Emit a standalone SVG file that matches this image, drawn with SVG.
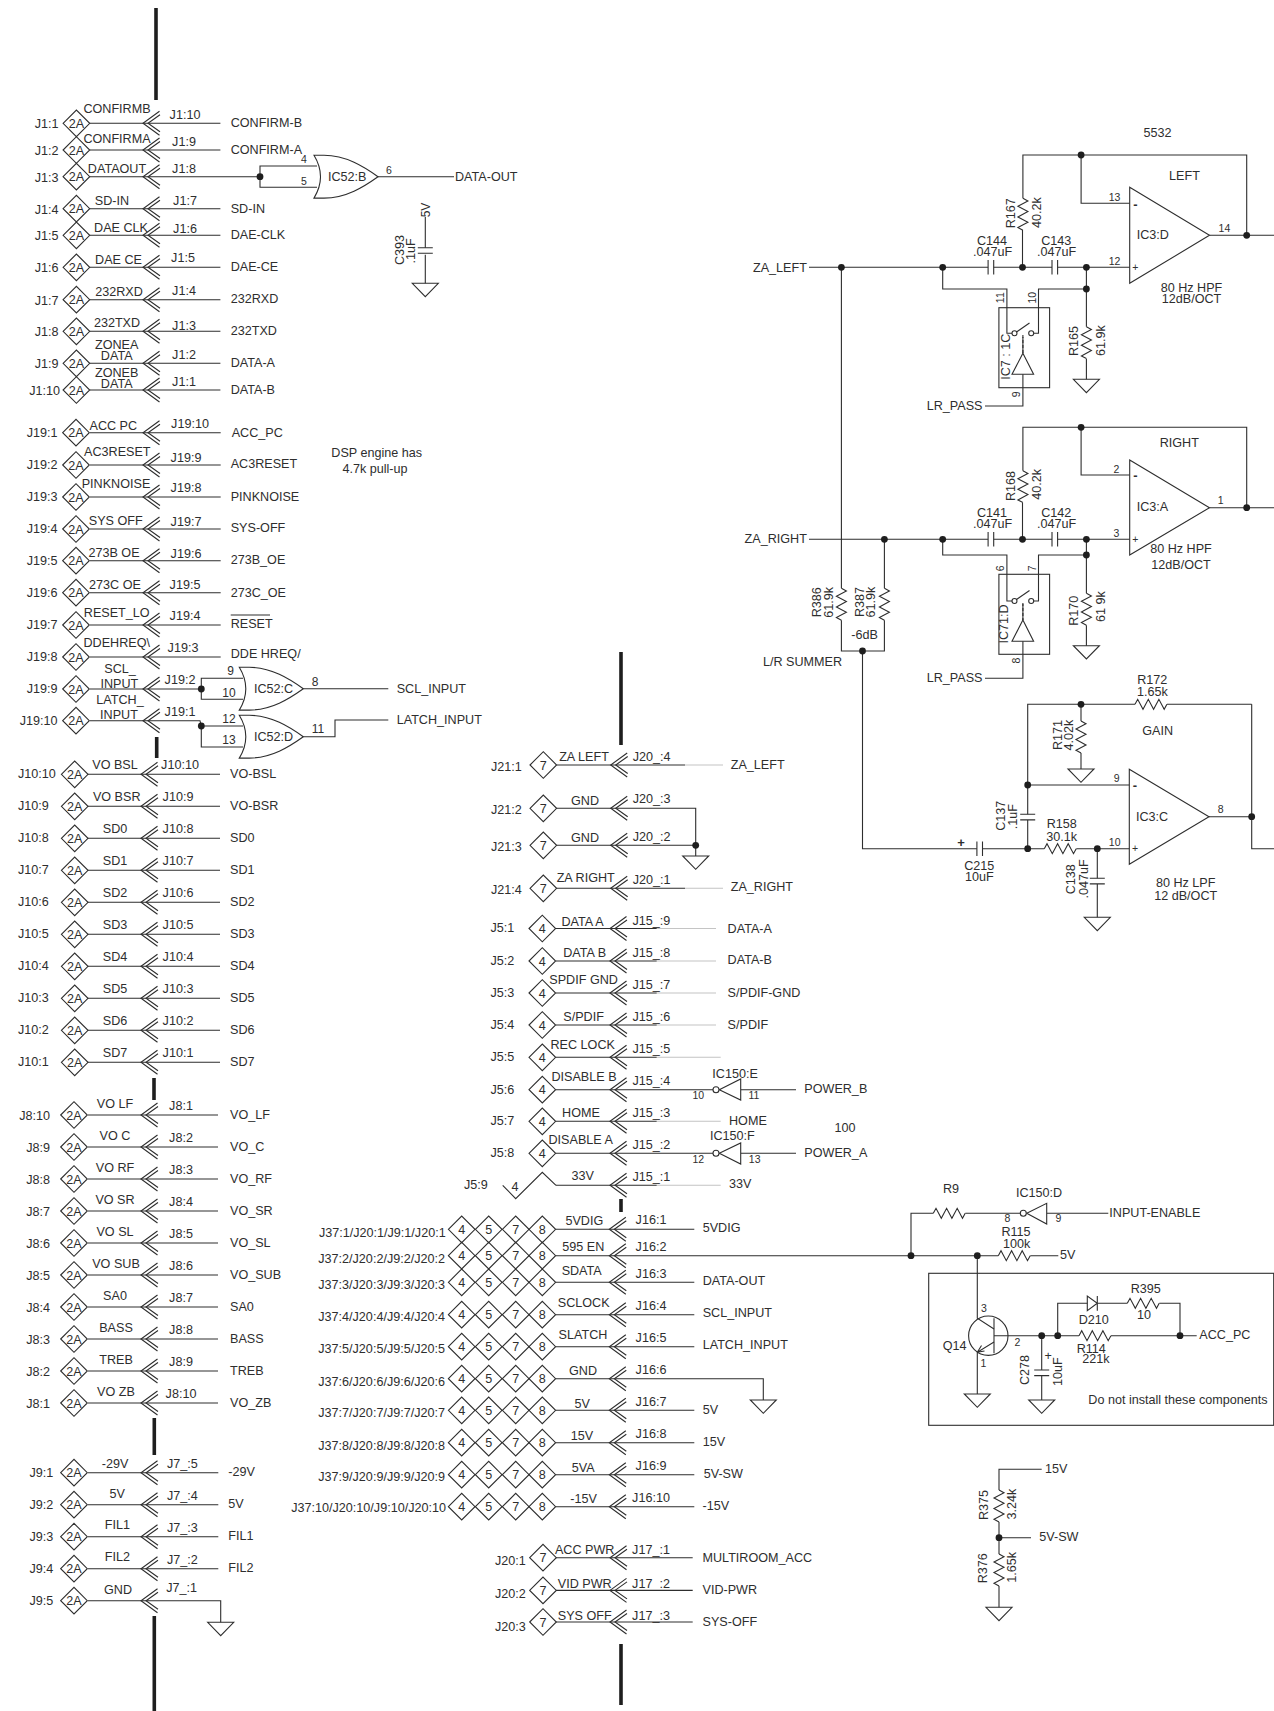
<svg xmlns="http://www.w3.org/2000/svg" width="1274" height="1711" viewBox="0 0 1274 1711">
<style>
text{font-family:"Liberation Sans",Arial,sans-serif;font-size:12.6px;fill:#2e2e2e}
.m{text-anchor:middle}
.e{text-anchor:end}
.p{text-anchor:middle;font-size:10.5px}
.s{text-anchor:middle;font-size:12px}
.b{text-anchor:middle;font-size:13px;font-weight:bold}
.w{fill:none;stroke:#2e2e2e;stroke-width:1.1}
.l{fill:none;stroke:#c4c4c4;stroke-width:1.1}
.t{fill:none;stroke:#1e1e1e;stroke-width:3.6}
.j{fill:#1e1e1e;stroke:none}
.o{fill:#fff;stroke:#2e2e2e;stroke-width:1.1}
</style>
<defs>
<path id="d" class="w" d="M-13.3,0L0,-13.3 13.3,0 0,13.3Z"/>
<path id="ch" class="w" d="M16.5,-12L0,0 16.5,12M17,-8.5L5,0 17,8.5"/>
<path id="g" class="w" d="M-13,0H13L0,13.3Z"/>
<path id="rh" class="w" d="M0,0l2.7,-5 5.3,10 5.3,-10 5.3,10 5.3,-10 5.3,10 2.7,-5"/>
<path id="rv" class="w" d="M0,0l5,2.7 -10,5.3 10,5.3 -10,5.3 10,5.3 -10,5.3 5,2.7"/>
<path id="or" class="w" d="M0,-21.4H10C32,-21.4 50,-10 64,0C50,10 32,21.4 10,21.4H0Q13,0 0,-21.4Z"/>
<path id="cv" class="w" d="M-7.5,0H7.5M-7.5,5.6H7.5"/>
<path id="ch2" class="w" d="M0,-7.2V7.2M5.6,-7.2V7.2"/>
<g id="d4"><use href="#d" x="461.7"/><use href="#d" x="488.7"/><use href="#d" x="515.7"/><use href="#d" x="542.3"/></g>
</defs>

<g id="bus-bars">
<path class="t" d="M156,8V100M156.7,737V758M154,1078V1100M154.3,1418V1455M154.3,1616V1711M621,652V745M621,1199V1212M621,1644V1705"/>
</g>

<g id="connectors">
<path class="w" d="M90,123.3H220.4M90,150H220.4M90,176.7H260M90,208.7H220.4M90,235.3H220.4M90,267.3H220.4M90,299.7H220.4M90,331.3H220.4M90,363.3H220.4M90,390H220.4"/>
<path class="w" d="M260,176.7V166H317M260,176.7V187.3H317M378,176.7H454M425.3,217V247.7M425.3,254.7V283.3"/>
<path class="w" d="M90,432.7H220.7M90,465H220.7M90,497H220.7M90,529H220.7M90,560.7H220.7M90,592.7H220.7M90,625H220.7M90,657H220.7M90,689H201.3M90,720.7H200L201.3,726"/>
<path class="w" d="M201.3,689V678.3H243M201.3,689V699.3H243M303.3,688.7H388.3M201.3,726H243M201.3,726V747H243M303.3,736.7H335V720H388.3"/>
<path class="w" d="M88,774.3H220M88,806.3H220M88,838.3H220M88,870.3H220M88,902.3H220M88,934.3H220M88,966.3H220M88,998.3H220M88,1030.3H220M88,1062.3H220"/>
<path class="w" d="M88,1115H218M88,1147H218M88,1179H218M88,1211H218M88,1243H218M88,1275H218M88,1307H218M88,1339H218M88,1371H218M88,1403H218"/>
<path class="w" d="M88,1472.7H218.3M88,1504.7H218.3M88,1536.7H218.3M88,1568.7H218.3M88,1600.7H220.7V1622.3"/>
<path class="w" d="M556.7,765H685M556.7,808.3H695.7V856M556.7,845.3H695.7M556.7,888.3H685"/>
<path class="l" d="M685,765H723M685,888.3H723M656.7,928.5H716M656.7,961H716M656.7,993H716M656.7,1025H716M656.7,1057.3H720.7M656.7,1121.3H720.7M656.7,1185.3H720.7"/>
<path class="w" d="M556,928.5H656.7M556,961H656.7M556,993H656.7M556,1025H656.7M556,1057.3H656.7M556,1089.7H713M740.7,1089.7H796M556,1121.3H656.7M556,1153.3H713M740.7,1153.3H796M556,1185.3H656.7"/>
<path class="w" d="M556,1229.3H694.3M556,1255.7H998.3M556,1282.3H694.3M556,1314.7H694.3M556,1346.7H694.3M556,1378.7H763.3V1400M556,1410.3H694.3M556,1442.7H694.3M556,1474.7H694.3M556,1506.7H694.3"/>
<path class="w" d="M556,1557.7H692.7M556,1590.4H692.7M556,1622H692.7"/>
<path class="w" d="M911,1255.7V1213.3H933.3M965.3,1213.3H1020.3M1046.7,1213.3H1108.3M1030.3,1255.7H1058.3M977.3,1255.7V1318.3L994,1329M994,1342L977.3,1352.3V1394M977.3,1352.3L984.5,1351M977.3,1352.3L981.5,1345.5"/>
<path class="w" d="M994,1335.7H1079M1111,1335.7H1196.7M1057.7,1335.7V1303.3H1087.3M1097.3,1303.3H1127.3M1159.3,1303.3H1180V1335.7M1041.7,1335.7V1370M1041.7,1375.6V1400"/>
<path class="w" d="M999,1490V1469.3H1041.7M999,1522V1554M999,1537.7H1031M999,1586V1607.3"/>
<path class="w" d="M1022.9,198.3V155H1246.7V235.3M1022.5,230V267.3M1081.1,155V203.3H1129.7M1209.5,235.3H1274"/>
<path class="w" d="M809,267.3H988.1M993.7,267.3H1052M1057.6,267.3H1129.7M942.7,267.3V289H1006.9V333.3H1012M1033.7,333.3H1038.5V289H1086.4M1086.4,267.3V326.7M1086.4,358.7V379.3M1022.9,353.3V337M1022.9,374.3V406H985M841.4,267.3V588.3"/>
<path class="w" d="M1022.9,470.7V427.3H1246.7V507.7M1022.5,502.7V539.3M1081.1,427.3V475H1129.7M1209.5,507.7H1274"/>
<path class="w" d="M809,539.3H988.1M993.7,539.3H1052M1057.6,539.3H1129.7M942.7,539.3V555H1006.9V601H1012M1033.7,601H1038.5V555H1086.4M1086.4,539.3V593.3M1086.4,625.3V645.7M1022.9,620V604M1022.9,641.3V678.3H985"/>
<path class="w" d="M884.4,539.3V588.3M841.4,620.3V651H884.4V620.3M862.5,651V848.7H976.9M982.5,848.7H1044.3M1076.3,848.7H1129.3M1209,816.7H1251.7M1251.7,704.3V848.7H1274M1027.7,785V704.3H1135M1167,704.3H1251.7M1081,704.3V721M1081,753V769M1027.7,785H1129.3M1027.7,785V814.3M1027.7,820V848.7M1097.3,848.7V878.3M1097.3,884V917.3"/>
</g>

<g id="J1-pins">
<g id="J1_1"><use href="#d" x="76.4" y="123.3"/><text class="m" x="76.4" y="127.8">2A</text><text class="e" x="58.5" y="128.3">J1:1</text><text class="m" x="117" y="112.7">CONFIRMB</text><use href="#ch" x="143" y="123.3"/><text class="m" x="185" y="119.3">J1:10</text><text x="230.7" y="127.3">CONFIRM-B</text></g>
<g id="J1_2"><use href="#d" x="76.4" y="150"/><text class="m" x="76.4" y="154.5">2A</text><text class="e" x="58.5" y="155">J1:2</text><text class="m" x="117" y="142.7">CONFIRMA</text><use href="#ch" x="143" y="150"/><text class="m" x="184" y="146">J1:9</text><text x="230.7" y="154">CONFIRM-A</text></g>
<g id="J1_3"><use href="#d" x="76.4" y="176.7"/><text class="m" x="76.4" y="181.2">2A</text><text class="e" x="58.5" y="181.7">J1:3</text><text class="m" x="117" y="172.7">DATAOUT</text><use href="#ch" x="143" y="176.7"/><text class="m" x="184" y="172.7">J1:8</text></g>
<g id="J1_4"><use href="#d" x="76.4" y="208.7"/><text class="m" x="76.4" y="213.2">2A</text><text class="e" x="58.5" y="213.7">J1:4</text><text class="m" x="112" y="205">SD-IN</text><use href="#ch" x="143" y="208.7"/><text class="m" x="185" y="204.7">J1:7</text><text x="230.7" y="212.7">SD-IN</text></g>
<g id="J1_5"><use href="#d" x="76.4" y="235.3"/><text class="m" x="76.4" y="239.8">2A</text><text class="e" x="58.5" y="240.3">J1:5</text><text class="m" x="121" y="232">DAE CLK</text><use href="#ch" x="143" y="235.3"/><text class="m" x="185" y="232.7">J1:6</text><text x="230.7" y="239.3">DAE-CLK</text></g>
<g id="J1_6"><use href="#d" x="76.4" y="267.3"/><text class="m" x="76.4" y="271.8">2A</text><text class="e" x="58.5" y="272.3">J1:6</text><text class="m" x="118.5" y="264">DAE CE</text><use href="#ch" x="143" y="267.3"/><text class="m" x="183" y="262">J1:5</text><text x="230.7" y="271.3">DAE-CE</text></g>
<g id="J1_7"><use href="#d" x="76.4" y="299.7"/><text class="m" x="76.4" y="304.2">2A</text><text class="e" x="58.5" y="304.7">J1:7</text><text class="m" x="119" y="296">232RXD</text><use href="#ch" x="143" y="299.7"/><text class="m" x="184" y="295.3">J1:4</text><text x="230.7" y="303.3">232RXD</text></g>
<g id="J1_8"><use href="#d" x="76.4" y="331.3"/><text class="m" x="76.4" y="335.8">2A</text><text class="e" x="58.5" y="336.3">J1:8</text><text class="m" x="117" y="326.7">232TXD</text><use href="#ch" x="143" y="331.3"/><text class="m" x="184" y="330">J1:3</text><text x="230.7" y="335.3">232TXD</text></g>
<g id="J1_9"><use href="#d" x="76.4" y="363.3"/><text class="m" x="76.4" y="367.8">2A</text><text class="e" x="58.5" y="368.3">J1:9</text><text class="m" x="116.7" y="349.3">ZONEA</text><text class="m" x="116.7" y="360">DATA</text><use href="#ch" x="143" y="363.3"/><text class="m" x="184" y="359.3">J1:2</text><text x="230.7" y="367.3">DATA-A</text></g>
<g id="J1_10"><use href="#d" x="76.4" y="390"/><text class="m" x="76.4" y="394.5">2A</text><text class="e" x="60" y="395">J1:10</text><text class="m" x="116.7" y="377.3">ZONEB</text><text class="m" x="116.7" y="388.3">DATA</text><use href="#ch" x="143" y="390"/><text class="m" x="184" y="386">J1:1</text><text x="230.7" y="394">DATA-B</text></g>
</g>

<g id="IC52B"><use href="#or" x="314" y="176.7"/><text x="328" y="181">IC52:B</text><text class="p" x="304" y="163">4</text><text class="p" x="304" y="185">5</text><text class="p" x="389" y="174">6</text><text x="455" y="181">DATA-OUT</text><circle class="j" cx="260" cy="176.7" r="3.4"/></g>
<g id="C393"><use href="#cv" x="425.3" y="247.7"/><use href="#g" x="425.3" y="283.3"/><text class="s" transform="translate(430,210) rotate(-90)">5V</text><text class="m" transform="translate(404,250) rotate(-90)">C393</text><text class="m" transform="translate(415,251) rotate(-90)">.1uF</text></g>

<g id="J19-pins">
<g id="J19_1"><use href="#d" x="76" y="432.7"/><text class="m" x="76" y="437.2">2A</text><text class="e" x="57.5" y="436.7">J19:1</text><text class="m" x="113.3" y="430">ACC PC</text><use href="#ch" x="143" y="432.7"/><text class="m" x="190" y="428.3">J19:10</text><text x="231.7" y="436.7">ACC_PC</text></g>
<g id="J19_2"><use href="#d" x="76" y="465"/><text class="m" x="76" y="469.5">2A</text><text class="e" x="57.5" y="469">J19:2</text><text class="m" x="117.3" y="455.7">AC3RESET</text><use href="#ch" x="143" y="465"/><text class="m" x="186" y="461.7">J19:9</text><text x="230.7" y="468.3">AC3RESET</text></g>
<g id="J19_3"><use href="#d" x="76" y="497"/><text class="m" x="76" y="501.5">2A</text><text class="e" x="57.5" y="501">J19:3</text><text class="m" x="116" y="488.3">PINKNOISE</text><use href="#ch" x="143" y="497"/><text class="m" x="186" y="492.3">J19:8</text><text x="230.7" y="500.7">PINKNOISE</text></g>
<g id="J19_4"><use href="#d" x="76" y="529"/><text class="m" x="76" y="533.5">2A</text><text class="e" x="57.5" y="533">J19:4</text><text class="m" x="115.7" y="525">SYS OFF</text><use href="#ch" x="143" y="529"/><text class="m" x="186" y="525.7">J19:7</text><text x="230.7" y="532.3">SYS-OFF</text></g>
<g id="J19_5"><use href="#d" x="76" y="560.7"/><text class="m" x="76" y="565.2">2A</text><text class="e" x="57.5" y="564.7">J19:5</text><text class="m" x="114" y="557.3">273B OE</text><use href="#ch" x="143" y="560.7"/><text class="m" x="186" y="557.7">J19:6</text><text x="230.7" y="564.3">273B_OE</text></g>
<g id="J19_6"><use href="#d" x="76" y="592.7"/><text class="m" x="76" y="597.2">2A</text><text class="e" x="57.5" y="596.7">J19:6</text><text class="m" x="115" y="589.3">273C OE</text><use href="#ch" x="143" y="592.7"/><text class="m" x="185" y="589.3">J19:5</text><text x="230.7" y="596.7">273C_OE</text></g>
<g id="J19_7"><use href="#d" x="76" y="625"/><text class="m" x="76" y="629.5">2A</text><text class="e" x="57.5" y="629">J19:7</text><text class="m" x="116.7" y="616.7">RESET_LO</text><use href="#ch" x="143" y="625"/><text class="m" x="185" y="620">J19:4</text><text x="230.7" y="628.3">RESET</text><path class="w" d="M230.7,615H270"/></g>
<g id="J19_8"><use href="#d" x="76" y="657"/><text class="m" x="76" y="661.5">2A</text><text class="e" x="57.5" y="661">J19:8</text><text class="m" x="116.7" y="646.7">DDEHREQ\</text><use href="#ch" x="143" y="657"/><text class="m" x="183" y="652.3">J19:3</text><text x="230.7" y="657.7">DDE HREQ/</text></g>
<g id="J19_9"><use href="#d" x="76" y="689"/><text class="m" x="76" y="693.5">2A</text><text class="e" x="57.5" y="693">J19:9</text><text class="m" x="120" y="673.3">SCL_</text><text class="m" x="119.3" y="687.7">INPUT</text><use href="#ch" x="143" y="689"/><text class="m" x="180" y="684.3">J19:2</text></g>
<g id="J19_10"><use href="#d" x="76" y="720.7"/><text class="m" x="76" y="725.2">2A</text><text class="e" x="57.5" y="725">J19:10</text><text class="m" x="120" y="704">LATCH_</text><text class="m" x="119" y="719">INPUT</text><use href="#ch" x="143" y="720.7"/><text class="m" x="180" y="716.3">J19:1</text></g>
</g>
<g id="IC52C"><use href="#or" x="239.3" y="688.7"/><text x="254" y="692.7">IC52:C</text><text class="s" x="230.7" y="675">9</text><text class="s" x="229" y="696.7">10</text><text class="s" x="315" y="686">8</text><text x="396.7" y="692.7">SCL_INPUT</text><circle class="j" cx="201.3" cy="689" r="3.4"/></g>
<g id="IC52D"><use href="#or" x="239.3" y="736.7"/><text x="254" y="740.7">IC52:D</text><text class="s" x="229" y="723">12</text><text class="s" x="229" y="744.3">13</text><text class="s" x="318" y="733">11</text><text x="396.7" y="724.3">LATCH_INPUT</text><circle class="j" cx="201.3" cy="726" r="3.4"/></g>
<g id="DSP-note"><text class="m" x="376.7" y="457.3">DSP engine has</text><text class="m" x="375" y="473.3">4.7k pull-up</text></g>

<g id="J10-pins">
<g id="J10_10"><use href="#d" x="74.7" y="774.3"/><text class="m" x="74.7" y="778.8">2A</text><text x="18" y="778.3">J10:10</text><text class="m" x="115" y="769.3">VO BSL</text><use href="#ch" x="141" y="774.3"/><text class="m" x="180" y="769.3">J10:10</text><text x="230" y="777.7">VO-BSL</text></g>
<g id="J10_9"><use href="#d" x="74.7" y="806.3"/><text class="m" x="74.7" y="810.8">2A</text><text x="18" y="810.3">J10:9</text><text class="m" x="116.7" y="801.3">VO BSR</text><use href="#ch" x="141" y="806.3"/><text class="m" x="178" y="801.3">J10:9</text><text x="230" y="809.7">VO-BSR</text></g>
<g id="J10_8"><use href="#d" x="74.7" y="838.3"/><text class="m" x="74.7" y="842.8">2A</text><text x="18" y="842.3">J10:8</text><text class="m" x="115" y="833.3">SD0</text><use href="#ch" x="141" y="838.3"/><text class="m" x="178" y="833.3">J10:8</text><text x="230" y="841.7">SD0</text></g>
<g id="J10_7"><use href="#d" x="74.7" y="870.3"/><text class="m" x="74.7" y="874.8">2A</text><text x="18" y="874.3">J10:7</text><text class="m" x="115" y="865.3">SD1</text><use href="#ch" x="141" y="870.3"/><text class="m" x="178" y="865.3">J10:7</text><text x="230" y="873.7">SD1</text></g>
<g id="J10_6"><use href="#d" x="74.7" y="902.3"/><text class="m" x="74.7" y="906.8">2A</text><text x="18" y="906.3">J10:6</text><text class="m" x="115" y="897.3">SD2</text><use href="#ch" x="141" y="902.3"/><text class="m" x="178" y="897.3">J10:6</text><text x="230" y="905.7">SD2</text></g>
<g id="J10_5"><use href="#d" x="74.7" y="934.3"/><text class="m" x="74.7" y="938.8">2A</text><text x="18" y="938.3">J10:5</text><text class="m" x="115" y="929.3">SD3</text><use href="#ch" x="141" y="934.3"/><text class="m" x="178" y="929.3">J10:5</text><text x="230" y="937.7">SD3</text></g>
<g id="J10_4"><use href="#d" x="74.7" y="966.3"/><text class="m" x="74.7" y="970.8">2A</text><text x="18" y="970.3">J10:4</text><text class="m" x="115" y="961.3">SD4</text><use href="#ch" x="141" y="966.3"/><text class="m" x="178" y="961.3">J10:4</text><text x="230" y="969.7">SD4</text></g>
<g id="J10_3"><use href="#d" x="74.7" y="998.3"/><text class="m" x="74.7" y="1002.8">2A</text><text x="18" y="1002.3">J10:3</text><text class="m" x="115" y="993.3">SD5</text><use href="#ch" x="141" y="998.3"/><text class="m" x="178" y="993.3">J10:3</text><text x="230" y="1001.7">SD5</text></g>
<g id="J10_2"><use href="#d" x="74.7" y="1030.3"/><text class="m" x="74.7" y="1034.8">2A</text><text x="18" y="1034.3">J10:2</text><text class="m" x="115" y="1025.3">SD6</text><use href="#ch" x="141" y="1030.3"/><text class="m" x="178" y="1025.3">J10:2</text><text x="230" y="1033.7">SD6</text></g>
<g id="J10_1"><use href="#d" x="74.7" y="1062.3"/><text class="m" x="74.7" y="1066.8">2A</text><text x="18" y="1066.3">J10:1</text><text class="m" x="115" y="1057.3">SD7</text><use href="#ch" x="141" y="1062.3"/><text class="m" x="178" y="1057.3">J10:1</text><text x="230" y="1065.7">SD7</text></g>
</g>

<g id="J8-pins">
<g id="J8_10"><use href="#d" x="74" y="1115"/><text class="m" x="74" y="1119.5">2A</text><text class="e" x="50" y="1119.5">J8:10</text><text class="m" x="115" y="1108">VO LF</text><use href="#ch" x="141" y="1115"/><text class="m" x="181" y="1109.5">J8:1</text><text x="230" y="1118.5">VO_LF</text></g>
<g id="J8_9"><use href="#d" x="74" y="1147"/><text class="m" x="74" y="1151.5">2A</text><text class="e" x="50" y="1151.5">J8:9</text><text class="m" x="115" y="1140">VO C</text><use href="#ch" x="141" y="1147"/><text class="m" x="181" y="1141.5">J8:2</text><text x="230" y="1150.5">VO_C</text></g>
<g id="J8_8"><use href="#d" x="74" y="1179"/><text class="m" x="74" y="1183.5">2A</text><text class="e" x="50" y="1183.5">J8:8</text><text class="m" x="115" y="1172">VO RF</text><use href="#ch" x="141" y="1179"/><text class="m" x="181" y="1173.5">J8:3</text><text x="230" y="1182.5">VO_RF</text></g>
<g id="J8_7"><use href="#d" x="74" y="1211"/><text class="m" x="74" y="1215.5">2A</text><text class="e" x="50" y="1215.5">J8:7</text><text class="m" x="115" y="1204">VO SR</text><use href="#ch" x="141" y="1211"/><text class="m" x="181" y="1205.5">J8:4</text><text x="230" y="1214.5">VO_SR</text></g>
<g id="J8_6"><use href="#d" x="74" y="1243"/><text class="m" x="74" y="1247.5">2A</text><text class="e" x="50" y="1247.5">J8:6</text><text class="m" x="115" y="1236">VO SL</text><use href="#ch" x="141" y="1243"/><text class="m" x="181" y="1237.5">J8:5</text><text x="230" y="1246.5">VO_SL</text></g>
<g id="J8_5"><use href="#d" x="74" y="1275"/><text class="m" x="74" y="1279.5">2A</text><text class="e" x="50" y="1279.5">J8:5</text><text class="m" x="116" y="1268">VO SUB</text><use href="#ch" x="141" y="1275"/><text class="m" x="181" y="1269.5">J8:6</text><text x="230" y="1278.5">VO_SUB</text></g>
<g id="J8_4"><use href="#d" x="74" y="1307"/><text class="m" x="74" y="1311.5">2A</text><text class="e" x="50" y="1311.5">J8:4</text><text class="m" x="115" y="1300">SA0</text><use href="#ch" x="141" y="1307"/><text class="m" x="181" y="1301.5">J8:7</text><text x="230" y="1310.5">SA0</text></g>
<g id="J8_3"><use href="#d" x="74" y="1339"/><text class="m" x="74" y="1343.5">2A</text><text class="e" x="50" y="1343.5">J8:3</text><text class="m" x="116" y="1332">BASS</text><use href="#ch" x="141" y="1339"/><text class="m" x="181" y="1333.5">J8:8</text><text x="230" y="1342.5">BASS</text></g>
<g id="J8_2"><use href="#d" x="74" y="1371"/><text class="m" x="74" y="1375.5">2A</text><text class="e" x="50" y="1375.5">J8:2</text><text class="m" x="116" y="1364">TREB</text><use href="#ch" x="141" y="1371"/><text class="m" x="181" y="1365.5">J8:9</text><text x="230" y="1374.5">TREB</text></g>
<g id="J8_1"><use href="#d" x="74" y="1403"/><text class="m" x="74" y="1407.5">2A</text><text class="e" x="50" y="1407.5">J8:1</text><text class="m" x="116" y="1396">VO ZB</text><use href="#ch" x="141" y="1403"/><text class="m" x="181" y="1397.5">J8:10</text><text x="230" y="1406.5">VO_ZB</text></g>
</g>

<g id="J9-pins">
<g id="J9_1"><use href="#d" x="74" y="1472.7"/><text class="m" x="74" y="1477.2">2A</text><text class="e" x="53.3" y="1476.7">J9:1</text><text class="m" x="115" y="1468.3">-29V</text><use href="#ch" x="141" y="1472.7"/><text class="m" x="182.3" y="1468.3">J7_:5</text><text x="228.3" y="1476">-29V</text></g>
<g id="J9_2"><use href="#d" x="74" y="1504.7"/><text class="m" x="74" y="1509.2">2A</text><text class="e" x="53.3" y="1508.7">J9:2</text><text class="m" x="117.3" y="1498.3">5V</text><use href="#ch" x="141" y="1504.7"/><text class="m" x="182.3" y="1500.3">J7_:4</text><text x="228.3" y="1508">5V</text></g>
<g id="J9_3"><use href="#d" x="74" y="1536.7"/><text class="m" x="74" y="1541.2">2A</text><text class="e" x="53.3" y="1540.7">J9:3</text><text class="m" x="117.3" y="1529.3">FIL1</text><use href="#ch" x="141" y="1536.7"/><text class="m" x="182.3" y="1532.3">J7_:3</text><text x="228.3" y="1540">FIL1</text></g>
<g id="J9_4"><use href="#d" x="74" y="1568.7"/><text class="m" x="74" y="1573.2">2A</text><text class="e" x="53.3" y="1572.7">J9:4</text><text class="m" x="117.3" y="1561.3">FIL2</text><use href="#ch" x="141" y="1568.7"/><text class="m" x="182.3" y="1564.3">J7_:2</text><text x="228.3" y="1572.3">FIL2</text></g>
<g id="J9_5"><use href="#d" x="74" y="1600.7"/><text class="m" x="74" y="1605.2">2A</text><text class="e" x="53.3" y="1604.7">J9:5</text><text class="m" x="118" y="1593.7">GND</text><use href="#ch" x="141" y="1600.7"/><text class="m" x="181.7" y="1592">J7_:1</text><use href="#g" x="220.7" y="1622.3"/></g>
</g>

<g id="J21-pins">
<g id="J21_1"><use href="#d" x="543.3" y="765"/><text class="m" x="543.3" y="769.5">7</text><text class="e" x="521.7" y="770.7">J21:1</text><text class="m" x="584" y="761">ZA LEFT</text><use href="#ch" x="610.7" y="765"/><text class="m" x="651.7" y="761">J20_:4</text><text x="730.7" y="769.3">ZA_LEFT</text></g>
<g id="J21_2"><use href="#d" x="543.3" y="808.3"/><text class="m" x="543.3" y="812.8">7</text><text class="e" x="521.7" y="814">J21:2</text><text class="m" x="585" y="805">GND</text><use href="#ch" x="610.7" y="808.3"/><text class="m" x="651.7" y="803.3">J20_:3</text></g>
<g id="J21_3"><use href="#d" x="543.3" y="845.3"/><text class="m" x="543.3" y="849.8">7</text><text class="e" x="521.7" y="851">J21:3</text><text class="m" x="585" y="842">GND</text><use href="#ch" x="610.7" y="845.3"/><text class="m" x="651.7" y="841">J20_:2</text><circle class="j" cx="695.7" cy="845.3" r="3.4"/><use href="#g" x="695.7" y="856"/></g>
<g id="J21_4"><use href="#d" x="543.3" y="888.3"/><text class="m" x="543.3" y="892.8">7</text><text class="e" x="521.7" y="893.5">J21:4</text><text class="m" x="585.7" y="882.3">ZA RIGHT</text><use href="#ch" x="610.7" y="888.3"/><text class="m" x="651.7" y="883.7">J20_:1</text><text x="730.7" y="891">ZA_RIGHT</text></g>
</g>

<g id="J5-pins">
<g id="J5_1"><use href="#d" x="542.3" y="928.5"/><text class="m" x="542.3" y="933">4</text><text class="e" x="514.3" y="932">J5:1</text><text class="m" x="582.5" y="926">DATA A</text><use href="#ch" x="610" y="928.5"/><text class="m" x="651.3" y="925">J15_:9</text><text x="727.6" y="932.6">DATA-A</text></g>
<g id="J5_2"><use href="#d" x="542.3" y="961"/><text class="m" x="542.3" y="965.5">4</text><text class="e" x="514.3" y="964.5">J5:2</text><text class="m" x="584.7" y="956.6">DATA B</text><use href="#ch" x="610" y="961"/><text class="m" x="651.3" y="956.6">J15_:8</text><text x="727.6" y="964.3">DATA-B</text></g>
<g id="J5_3"><use href="#d" x="542.3" y="993"/><text class="m" x="542.3" y="997.5">4</text><text class="e" x="514.3" y="996.5">J5:3</text><text class="m" x="583.6" y="983.8">SPDIF GND</text><use href="#ch" x="610" y="993"/><text class="m" x="651.3" y="989">J15_:7</text><text x="727.6" y="997">S/PDIF-GND</text></g>
<g id="J5_4"><use href="#d" x="542.3" y="1025"/><text class="m" x="542.3" y="1029.5">4</text><text class="e" x="514.3" y="1028.5">J5:4</text><text class="m" x="583.6" y="1021">S/PDIF</text><use href="#ch" x="610" y="1025"/><text class="m" x="651.3" y="1021">J15_:6</text><text x="727.6" y="1028.5">S/PDIF</text></g>
<g id="J5_5"><use href="#d" x="542.3" y="1057.3"/><text class="m" x="542.3" y="1061.8">4</text><text class="e" x="514.3" y="1060.7">J5:5</text><text class="m" x="582.7" y="1049.3">REC LOCK</text><use href="#ch" x="610" y="1057.3"/><text class="m" x="651.3" y="1052.7">J15_:5</text></g>
<g id="J5_6"><use href="#d" x="542.3" y="1089.7"/><text class="m" x="542.3" y="1094.2">4</text><text class="e" x="514.3" y="1093.5">J5:6</text><text class="m" x="584" y="1080.7">DISABLE B</text><use href="#ch" x="610" y="1089.7"/><text class="m" x="651.3" y="1085">J15_:4</text></g>
<g id="J5_7"><use href="#d" x="542.3" y="1121.3"/><text class="m" x="542.3" y="1125.8">4</text><text class="e" x="514.3" y="1125">J5:7</text><text class="m" x="581" y="1117.3">HOME</text><use href="#ch" x="610" y="1121.3"/><text class="m" x="651.3" y="1117.3">J15_:3</text><text x="729" y="1125">HOME</text></g>
<g id="J5_8"><use href="#d" x="542.3" y="1153.3"/><text class="m" x="542.3" y="1157.8">4</text><text class="e" x="514.3" y="1157">J5:8</text><text class="m" x="580.7" y="1144">DISABLE A</text><use href="#ch" x="610" y="1153.3"/><text class="m" x="651.3" y="1149">J15_:2</text></g>
<g id="J5_9"><path class="w" d="M502.7,1185.3L515.7,1198.7 542.3,1172.3 556,1185.3"/><text class="m" x="515" y="1191">4</text><text x="464" y="1189.3">J5:9</text><text class="m" x="582.7" y="1180">33V</text><use href="#ch" x="610" y="1185.3"/><text class="m" x="651.3" y="1181">J15_:1</text><text x="729" y="1188.3">33V</text></g>
</g>
<g id="IC150E"><path class="o" d="M740.7,1079V1100L719.3,1089.7Z"/><circle class="o" cx="716" cy="1089.7" r="3"/><text x="712.3" y="1077.7">IC150:E</text><text class="p" x="698.3" y="1099.3">10</text><text class="p" x="754" y="1099.3">11</text><text x="804.3" y="1092.7">POWER_B</text></g>
<g id="IC150F"><path class="o" d="M740.7,1143V1164L719.3,1153.3Z"/><circle class="o" cx="716" cy="1153.3" r="3"/><text x="710" y="1140">IC150:F</text><text class="p" x="698.3" y="1163.3">12</text><text class="p" x="754.7" y="1163.3">13</text><text x="804.3" y="1156.7">POWER_A</text></g>
<text id="note-100" class="m" x="845" y="1132">100</text>

<g id="J16-pins">
<g id="J16_1"><use href="#d4" y="1229.3"/><text class="m" x="461.7" y="1233.8">4</text><text class="m" x="488.7" y="1233.8">5</text><text class="m" x="515.7" y="1233.8">7</text><text class="m" x="542.3" y="1233.8">8</text><text class="e" x="445.7" y="1237.3">J37:1/J20:1/J9:1/J20:1</text><text class="m" x="584.3" y="1225">5VDIG</text><use href="#ch" x="609.3" y="1229.3"/><text class="m" x="651" y="1224.3">J16:1</text><text x="702.7" y="1231.7">5VDIG</text></g>
<g id="J16_2"><use href="#d4" y="1255.7"/><text class="m" x="461.7" y="1260.2">4</text><text class="m" x="488.7" y="1260.2">5</text><text class="m" x="515.7" y="1260.2">7</text><text class="m" x="542.3" y="1260.2">8</text><text class="e" x="445" y="1262.7">J37:2/J20:2/J9:2/J20:2</text><text class="m" x="583.3" y="1251">595 EN</text><use href="#ch" x="609.3" y="1255.7"/><text class="m" x="651" y="1251">J16:2</text></g>
<g id="J16_3"><use href="#d4" y="1282.3"/><text class="m" x="461.7" y="1286.8">4</text><text class="m" x="488.7" y="1286.8">5</text><text class="m" x="515.7" y="1286.8">7</text><text class="m" x="542.3" y="1286.8">8</text><text class="e" x="445" y="1289.3">J37:3/J20:3/J9:3/J20:3</text><text class="m" x="581.7" y="1275.3">SDATA</text><use href="#ch" x="609.3" y="1282.3"/><text class="m" x="651" y="1277.7">J16:3</text><text x="702.7" y="1285.3">DATA-OUT</text></g>
<g id="J16_4"><use href="#d4" y="1314.7"/><text class="m" x="461.7" y="1319.2">4</text><text class="m" x="488.7" y="1319.2">5</text><text class="m" x="515.7" y="1319.2">7</text><text class="m" x="542.3" y="1319.2">8</text><text class="e" x="445" y="1321.3">J37:4/J20:4/J9:4/J20:4</text><text class="m" x="583.7" y="1307.3">SCLOCK</text><use href="#ch" x="609.3" y="1314.7"/><text class="m" x="651" y="1309.7">J16:4</text><text x="702.7" y="1317.3">SCL_INPUT</text></g>
<g id="J16_5"><use href="#d4" y="1346.7"/><text class="m" x="461.7" y="1351.2">4</text><text class="m" x="488.7" y="1351.2">5</text><text class="m" x="515.7" y="1351.2">7</text><text class="m" x="542.3" y="1351.2">8</text><text class="e" x="445" y="1353.3">J37:5/J20:5/J9:5/J20:5</text><text class="m" x="583" y="1339">SLATCH</text><use href="#ch" x="609.3" y="1346.7"/><text class="m" x="651" y="1342">J16:5</text><text x="702.7" y="1349.3">LATCH_INPUT</text></g>
<g id="J16_6"><use href="#d4" y="1378.7"/><text class="m" x="461.7" y="1383.2">4</text><text class="m" x="488.7" y="1383.2">5</text><text class="m" x="515.7" y="1383.2">7</text><text class="m" x="542.3" y="1383.2">8</text><text class="e" x="445" y="1386">J37:6/J20:6/J9:6/J20:6</text><text class="m" x="583" y="1374.7">GND</text><use href="#ch" x="609.3" y="1378.7"/><text class="m" x="651" y="1374">J16:6</text><use href="#g" x="763.3" y="1400"/></g>
<g id="J16_7"><use href="#d4" y="1410.3"/><text class="m" x="461.7" y="1414.8">4</text><text class="m" x="488.7" y="1414.8">5</text><text class="m" x="515.7" y="1414.8">7</text><text class="m" x="542.3" y="1414.8">8</text><text class="e" x="445" y="1416.7">J37:7/J20:7/J9:7/J20:7</text><text class="m" x="582.3" y="1407.7">5V</text><use href="#ch" x="609.3" y="1410.3"/><text class="m" x="651" y="1406">J16:7</text><text x="702.7" y="1413.7">5V</text></g>
<g id="J16_8"><use href="#d4" y="1442.7"/><text class="m" x="461.7" y="1447.2">4</text><text class="m" x="488.7" y="1447.2">5</text><text class="m" x="515.7" y="1447.2">7</text><text class="m" x="542.3" y="1447.2">8</text><text class="e" x="445" y="1450">J37:8/J20:8/J9:8/J20:8</text><text class="m" x="582" y="1440">15V</text><use href="#ch" x="609.3" y="1442.7"/><text class="m" x="651" y="1438">J16:8</text><text x="702.7" y="1446">15V</text></g>
<g id="J16_9"><use href="#d4" y="1474.7"/><text class="m" x="461.7" y="1479.2">4</text><text class="m" x="488.7" y="1479.2">5</text><text class="m" x="515.7" y="1479.2">7</text><text class="m" x="542.3" y="1479.2">8</text><text class="e" x="445" y="1480.7">J37:9/J20:9/J9:9/J20:9</text><text class="m" x="583.3" y="1472">5VA</text><use href="#ch" x="609.3" y="1474.7"/><text class="m" x="651" y="1470">J16:9</text><text x="703.7" y="1478">5V-SW</text></g>
<g id="J16_10"><use href="#d4" y="1506.7"/><text class="m" x="461.7" y="1511.2">4</text><text class="m" x="488.7" y="1511.2">5</text><text class="m" x="515.7" y="1511.2">7</text><text class="m" x="542.3" y="1511.2">8</text><text class="e" x="446" y="1512">J37:10/J20:10/J9:10/J20:10</text><text class="m" x="583.6" y="1503">-15V</text><use href="#ch" x="609.3" y="1506.7"/><text class="m" x="651" y="1502">J16:10</text><text x="702.5" y="1509.6">-15V</text></g>
</g>

<g id="J20-pins">
<g id="J20_1"><use href="#d" x="543" y="1557.7"/><text class="m" x="543" y="1562.2">7</text><text class="e" x="525.8" y="1565">J20:1</text><text class="m" x="584.7" y="1554">ACC PWR</text><use href="#ch" x="610" y="1557.7"/><text class="m" x="651" y="1554">J17_:1</text><text x="702.5" y="1562">MULTIROOM_ACC</text></g>
<g id="J20_2"><use href="#d" x="543" y="1590.4"/><text class="m" x="543" y="1594.9">7</text><text class="e" x="525.8" y="1598">J20:2</text><text class="m" x="584.7" y="1588">VID PWR</text><use href="#ch" x="610" y="1590.4"/><text class="m" x="651" y="1588">J17_:2</text><text x="702.5" y="1593.6">VID-PWR</text></g>
<g id="J20_3"><use href="#d" x="543" y="1622"/><text class="m" x="543" y="1626.5">7</text><text class="e" x="525.8" y="1630.7">J20:3</text><text class="m" x="584.7" y="1619.8">SYS OFF</text><use href="#ch" x="610" y="1622"/><text class="m" x="651" y="1619.8">J17_:3</text><text x="702.5" y="1626">SYS-OFF</text></g>
</g>

<g id="R9"><use href="#rh" x="933.3" y="1213.3"/><text class="m" x="951" y="1193.3">R9</text></g>
<g id="IC150D"><path class="o" d="M1046.7,1203.3V1224L1026.7,1213.3Z"/><circle class="o" cx="1023.3" cy="1213.3" r="3"/><text x="1016" y="1197.3">IC150:D</text><text class="p" x="1007.3" y="1222.3">8</text><text class="p" x="1058.3" y="1222.3">9</text><text x="1109.3" y="1216.7">INPUT-ENABLE</text></g>
<g id="R115"><use href="#rh" x="998.3" y="1255.7"/><text class="m" x="1016" y="1236">R115</text><text class="m" x="1016.7" y="1247.5">100k</text><text x="1060" y="1259.3">5V</text><circle class="j" cx="911" cy="1255.7" r="3.4"/><circle class="j" cx="977.3" cy="1255.7" r="3.4"/></g>
<g id="no-install-box"><rect class="w" x="928.7" y="1273.3" width="345" height="152"/><text x="1088.3" y="1404">Do not install these components</text></g>
<g id="Q14"><circle class="w" cx="988.3" cy="1335.7" r="19.7"/><path class="w" d="M994,1318.3V1353.3"/><text x="942.7" y="1350">Q14</text><text class="p" x="984" y="1311.7">3</text><text class="p" x="1017.3" y="1346">2</text><text class="p" x="983.3" y="1366.7">1</text><use href="#g" x="977.3" y="1394"/></g>
<g id="C278"><use href="#cv" x="1041.7" y="1370"/><use href="#g" x="1041.7" y="1400"/><circle class="j" cx="1041.7" cy="1335.7" r="3.4"/><text class="m" transform="translate(1029.3,1370) rotate(-90)">C278</text><text class="m" transform="translate(1061.7,1371.7) rotate(-90)">10uF</text><text class="m" x="1048.3" y="1359.5">+</text></g>
<g id="D210"><path class="w" d="M1087.3,1296V1310.7L1097.3,1303.3ZM1097.3,1296V1310.7"/><text class="m" x="1093.7" y="1324">D210</text><circle class="j" cx="1057.7" cy="1335.7" r="3.4"/></g>
<g id="R395"><use href="#rh" x="1127.3" y="1303.3"/><text class="m" x="1145.7" y="1293.3">R395</text><text class="m" x="1144" y="1319.3">10</text></g>
<g id="R114"><use href="#rh" x="1079" y="1335.7"/><text class="m" x="1091.3" y="1352.7">R114</text><text class="m" x="1096" y="1362.7">221k</text><circle class="j" cx="1180" cy="1335.7" r="3.4"/><text x="1199.3" y="1339.3">ACC_PC</text></g>
<g id="R375"><use href="#rv" x="999" y="1490"/><text class="m" transform="translate(988.3,1505) rotate(-90)">R375</text><text class="m" transform="translate(1016,1504) rotate(-90)">3.24k</text><text x="1045" y="1472.7">15V</text></g>
<g id="R376"><use href="#rv" x="999" y="1554"/><text class="m" transform="translate(986.7,1568.3) rotate(-90)">R376</text><text class="m" transform="translate(1016,1567.3) rotate(-90)">1.65k</text><circle class="j" cx="999" cy="1537.7" r="3.4"/><text x="1039.3" y="1540.7">5V-SW</text><use href="#g" x="999" y="1607.3"/></g>

<g id="LEFT-stage">
<path class="w" d="M1129.7,187.3V283.3L1209.5,235.3Z"/>
<text x="1136.7" y="239">IC3:D</text><text class="m" x="1184.5" y="180">LEFT</text><text class="m" x="1157.5" y="137.3">5532</text><text class="m" x="1191.5" y="291.7">80 Hz HPF</text><text class="m" x="1191.5" y="302.7">12dB/OCT</text>
<text class="p" x="1114.5" y="201">13</text><text class="p" x="1114.5" y="265">12</text><text class="p" x="1224.4" y="231.7">14</text><text class="b" x="1135.3" y="208.5">-</text><text class="p" x="1135.3" y="270.5">+</text>
<text x="753" y="271.7">ZA_LEFT</text><text x="926.7" y="410">LR_PASS</text>
<circle class="j" cx="1081.1" cy="155" r="3.4"/><circle class="j" cx="1246.7" cy="235.3" r="3.4"/><circle class="j" cx="841.4" cy="267.3" r="3.4"/><circle class="j" cx="942.7" cy="267.3" r="3.4"/><circle class="j" cx="1022.5" cy="267.3" r="3.4"/><circle class="j" cx="1086.4" cy="267.3" r="3.4"/><circle class="j" cx="1086.4" cy="289" r="3.4"/>
<g id="R167"><use href="#rv" x="1022.9" y="198.3"/><text class="m" transform="translate(1014.5,213.3) rotate(-90)">R167</text><text class="m" transform="translate(1040.9,212.7) rotate(-90)">40.2k</text></g>
<g id="C144"><use href="#ch2" x="988.1" y="267.3"/><text class="m" x="992" y="245">C144</text><text class="m" x="992.7" y="256">.047uF</text></g>
<g id="C143"><use href="#ch2" x="1052" y="267.3"/><text class="m" x="1056.2" y="245">C143</text><text class="m" x="1056.7" y="256">.047uF</text></g>
<g id="R165"><use href="#rv" x="1086.4" y="326.7"/><text class="m" transform="translate(1077.7,341) rotate(-90)">R165</text><text class="m" transform="translate(1104.7,340.7) rotate(-90)">61.9k</text><use href="#g" x="1086.4" y="379.3"/></g>
<g id="IC7"><rect class="w" x="998.9" y="307.7" width="50.7" height="80"/><circle class="o" cx="1014.5" cy="333.3" r="2.5"/><circle class="o" cx="1031.2" cy="333.3" r="2.5"/><path class="w" d="M1016.5,332L1029.5,323"/><path class="w" stroke-dasharray="3 2" d="M1022.9,335V353.3"/><path class="w" d="M1022.9,353.3L1033.6,374.3H1012Z"/><text class="m" transform="translate(1009.7,356.7) rotate(-90)">IC7 : 1C</text><text class="p" transform="translate(1004,297.7) rotate(-90)">11</text><text class="p" transform="translate(1036,297.7) rotate(-90)">10</text><text class="p" transform="translate(1019.7,394.3) rotate(-90)">9</text></g>
</g>

<g id="RIGHT-stage">
<path class="w" d="M1129.7,460V555L1209.5,507.7Z"/>
<text x="1136.7" y="511">IC3:A</text><text class="m" x="1179.3" y="446.7">RIGHT</text><text class="m" x="1181" y="553.3">80 Hz HPF</text><text class="m" x="1181" y="569.3">12dB/OCT</text>
<text class="p" x="1116.5" y="472.7">2</text><text class="p" x="1116.5" y="536.7">3</text><text class="p" x="1220.6" y="504">1</text><text class="b" x="1135.3" y="480">-</text><text class="p" x="1135.3" y="542.5">+</text>
<text x="744.6" y="543.3">ZA_RIGHT</text><text x="926.7" y="681.7">LR_PASS</text>
<circle class="j" cx="1081.1" cy="427.3" r="3.4"/><circle class="j" cx="1246.7" cy="507.7" r="3.4"/><circle class="j" cx="884.4" cy="539.3" r="3.4"/><circle class="j" cx="942.7" cy="539.3" r="3.4"/><circle class="j" cx="1022.5" cy="539.3" r="3.4"/><circle class="j" cx="1086.4" cy="539.3" r="3.4"/><circle class="j" cx="1086.4" cy="555" r="3.4"/>
<g id="R168"><use href="#rv" x="1022.9" y="470.7"/><text class="m" transform="translate(1014.5,486) rotate(-90)">R168</text><text class="m" transform="translate(1040.9,484.3) rotate(-90)">40.2k</text></g>
<g id="C141"><use href="#ch2" x="988.1" y="539.3"/><text class="m" x="992" y="516.7">C141</text><text class="m" x="992.7" y="527.7">.047uF</text></g>
<g id="C142"><use href="#ch2" x="1052" y="539.3"/><text class="m" x="1056.2" y="516.7">C142</text><text class="m" x="1056.7" y="527.7">.047uF</text></g>
<g id="R170"><use href="#rv" x="1086.4" y="593.3"/><text class="m" transform="translate(1077.7,610.7) rotate(-90)">R170</text><text class="m" transform="translate(1104.7,606.7) rotate(-90)">61 9k</text><use href="#g" x="1086.4" y="645.7"/></g>
<g id="IC71"><rect class="w" x="998.9" y="574.3" width="50.7" height="80"/><circle class="o" cx="1014.5" cy="601" r="2.5"/><circle class="o" cx="1031.2" cy="601" r="2.5"/><path class="w" d="M1016.5,599.5L1029.5,590.5"/><path class="w" stroke-dasharray="3 2" d="M1022.9,603V620"/><path class="w" d="M1022.9,620L1033.6,641.3H1012Z"/><text class="m" transform="translate(1008.3,624) rotate(-90)">IC71:D</text><text class="p" transform="translate(1004,568.3) rotate(-90)">6</text><text class="p" transform="translate(1036,568.3) rotate(-90)">7</text><text class="p" transform="translate(1019.7,660.7) rotate(-90)">8</text></g>
<g id="R386"><use href="#rv" x="841.4" y="588.3"/><text class="m" transform="translate(820.9,602.3) rotate(-90)">R386</text><text class="m" transform="translate(833,602.3) rotate(-90)">61.9k</text></g>
<g id="R387"><use href="#rv" x="884.4" y="588.3"/><text class="m" transform="translate(863.6,602) rotate(-90)">R387</text><text class="m" transform="translate(875,602) rotate(-90)">61.9k</text></g>
<circle class="j" cx="862.5" cy="651" r="3.4"/><text class="m" x="864.6" y="639">-6dB</text><text x="763" y="665.7">L/R SUMMER</text>
</g>

<g id="LPF-stage">
<path class="w" d="M1129.3,769.3V864.3L1209,816.7Z"/>
<text x="1136" y="820.7">IC3:C</text><text class="m" x="1157.7" y="735">GAIN</text><text class="m" x="1185.7" y="887.3">80 Hz LPF</text><text class="m" x="1185.7" y="900">12 dB/OCT</text>
<text class="p" x="1116.7" y="781.7">9</text><text class="p" x="1114.7" y="845.7">10</text><text class="p" x="1220.7" y="813.3">8</text><text class="b" x="1135" y="789.5">-</text><text class="p" x="1135" y="851.5">+</text>
<circle class="j" cx="1081" cy="704.3" r="3.4"/><circle class="j" cx="1027.7" cy="785" r="3.4"/><circle class="j" cx="1027.7" cy="848.7" r="3.4"/><circle class="j" cx="1097.3" cy="848.7" r="3.4"/><circle class="j" cx="1251.7" cy="816.7" r="3.4"/>
<g id="R172"><use href="#rh" x="1135" y="704.3"/><text class="m" x="1152.3" y="684.3">R172</text><text class="m" x="1152.3" y="696">1.65k</text></g>
<g id="R171"><use href="#rv" x="1081" y="721"/><text class="m" transform="translate(1061.7,735) rotate(-90)">R171</text><text class="m" transform="translate(1073.3,735) rotate(-90)">4.02k</text><use href="#g" x="1081" y="769"/></g>
<g id="C215"><use href="#ch2" x="976.9" y="848.7"/><text class="b" x="961" y="847">+</text><text class="m" x="979.3" y="870">C215</text><text class="m" x="979.3" y="881.3">10uF</text></g>
<g id="C137"><use href="#cv" x="1027.7" y="814.3"/><text class="m" transform="translate(1005,815.7) rotate(-90)">C137</text><text class="m" transform="translate(1017.3,816.7) rotate(-90)">.1uF</text></g>
<g id="R158"><use href="#rh" x="1044.3" y="848.7"/><text class="m" x="1061.7" y="828.3">R158</text><text class="m" x="1061.7" y="840.7">30.1k</text></g>
<g id="C138"><use href="#cv" x="1097.3" y="878.3"/><text class="m" transform="translate(1075.3,879.3) rotate(-90)">C138</text><text class="m" transform="translate(1088,879) rotate(-90)">.047uF</text><use href="#g" x="1097.3" y="917.3"/></g>
</g>
</svg>
